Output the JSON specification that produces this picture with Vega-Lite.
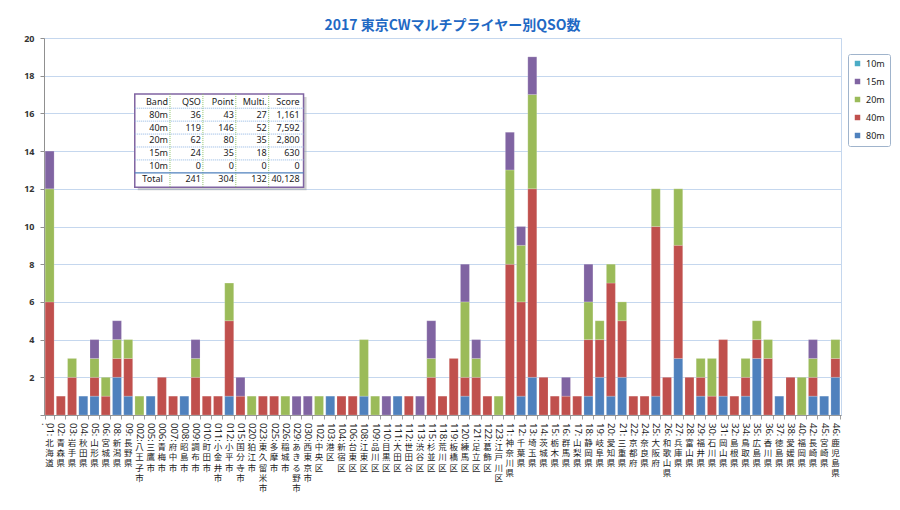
{
  "$schema": "https://vega.github.io/schema/vega-lite/v6.json",
  "width": 797,
  "height": 377,
  "autosize": {"type": "none"},
  "padding": {"left": 44, "top": 38, "right": 59, "bottom": 95},
  "background": "white",
  "config": {"view": {"stroke": "#C5D7EE"}, "font": "Noto Sans"},
  "title": {
    "text": "2017 東京CWマルチプライヤー別QSO数",
    "font": "Noto Sans CJK JP",
    "fontSize": 14,
    "fontWeight": "bold",
    "color": "#1F69C4",
    "anchor": "middle",
    "frame": "group",
    "dx": 10,
    "offset": 1.5
  },
  "layer": [
    {
      "data": {
        "values": [
          {"area": "01:北海道", "80m": 0, "40m": 6, "20m": 6, "15m": 2},
          {"area": "02:青森県", "80m": 0, "40m": 1, "20m": 0, "15m": 0},
          {"area": "03:岩手県", "80m": 0, "40m": 2, "20m": 1, "15m": 0},
          {"area": "04:秋田県", "80m": 1, "40m": 0, "20m": 0, "15m": 0},
          {"area": "05:山形県", "80m": 1, "40m": 1, "20m": 1, "15m": 1},
          {"area": "06:宮城県", "80m": 0, "40m": 1, "20m": 1, "15m": 0},
          {"area": "08:新潟県", "80m": 2, "40m": 1, "20m": 1, "15m": 1},
          {"area": "09:長野県", "80m": 1, "40m": 2, "20m": 1, "15m": 0},
          {"area": "002:八王子市", "80m": 0, "40m": 0, "20m": 1, "15m": 0},
          {"area": "005:三鷹市", "80m": 1, "40m": 0, "20m": 0, "15m": 0},
          {"area": "006:青梅市", "80m": 0, "40m": 2, "20m": 0, "15m": 0},
          {"area": "007:府中市", "80m": 0, "40m": 1, "20m": 0, "15m": 0},
          {"area": "008:昭島市", "80m": 1, "40m": 0, "20m": 0, "15m": 0},
          {"area": "009:調布市", "80m": 0, "40m": 2, "20m": 1, "15m": 1},
          {"area": "010:町田市", "80m": 0, "40m": 1, "20m": 0, "15m": 0},
          {"area": "011:小金井市", "80m": 0, "40m": 1, "20m": 0, "15m": 0},
          {"area": "012:小平市", "80m": 1, "40m": 4, "20m": 2, "15m": 0},
          {"area": "015:国分寺市", "80m": 0, "40m": 1, "20m": 0, "15m": 1},
          {"area": "020:狛江市", "80m": 0, "40m": 0, "20m": 1, "15m": 0},
          {"area": "023:東久留米市", "80m": 0, "40m": 1, "20m": 0, "15m": 0},
          {"area": "025:多摩市", "80m": 0, "40m": 1, "20m": 0, "15m": 0},
          {"area": "026:稲城市", "80m": 0, "40m": 0, "20m": 1, "15m": 0},
          {"area": "029:あきる野市", "80m": 0, "40m": 0, "20m": 0, "15m": 1},
          {"area": "030:西東京市", "80m": 0, "40m": 0, "20m": 0, "15m": 1},
          {"area": "102:中央区", "80m": 0, "40m": 0, "20m": 1, "15m": 0},
          {"area": "103:港区", "80m": 1, "40m": 0, "20m": 0, "15m": 0},
          {"area": "104:新宿区", "80m": 0, "40m": 1, "20m": 0, "15m": 0},
          {"area": "106:台東区", "80m": 0, "40m": 1, "20m": 0, "15m": 0},
          {"area": "108:江東区", "80m": 1, "40m": 0, "20m": 3, "15m": 0},
          {"area": "109:品川区", "80m": 0, "40m": 0, "20m": 1, "15m": 0},
          {"area": "110:目黒区", "80m": 0, "40m": 0, "20m": 0, "15m": 1},
          {"area": "111:大田区", "80m": 1, "40m": 0, "20m": 0, "15m": 0},
          {"area": "112:世田谷", "80m": 0, "40m": 1, "20m": 0, "15m": 0},
          {"area": "113:渋谷区", "80m": 0, "40m": 0, "20m": 0, "15m": 1},
          {"area": "115:杉並区", "80m": 0, "40m": 2, "20m": 1, "15m": 2},
          {"area": "118:荒川区", "80m": 0, "40m": 1, "20m": 0, "15m": 0},
          {"area": "119:板橋区", "80m": 0, "40m": 3, "20m": 0, "15m": 0},
          {"area": "120:練馬区", "80m": 1, "40m": 1, "20m": 4, "15m": 2},
          {"area": "121:足立区", "80m": 0, "40m": 2, "20m": 1, "15m": 1},
          {"area": "122:葛飾区", "80m": 0, "40m": 1, "20m": 0, "15m": 0},
          {"area": "123:江戸川区", "80m": 0, "40m": 0, "20m": 1, "15m": 0},
          {"area": "11:神奈川県", "80m": 0, "40m": 8, "20m": 5, "15m": 2},
          {"area": "12:千葉県", "80m": 1, "40m": 5, "20m": 3, "15m": 1},
          {"area": "13:埼玉県", "80m": 2, "40m": 10, "20m": 5, "15m": 2},
          {"area": "14:茨城県", "80m": 0, "40m": 2, "20m": 0, "15m": 0},
          {"area": "15:栃木県", "80m": 0, "40m": 1, "20m": 0, "15m": 0},
          {"area": "16:群馬県", "80m": 0, "40m": 1, "20m": 0, "15m": 1},
          {"area": "17:山梨県", "80m": 0, "40m": 1, "20m": 0, "15m": 0},
          {"area": "18:静岡県", "80m": 1, "40m": 3, "20m": 2, "15m": 2},
          {"area": "19:岐阜県", "80m": 2, "40m": 2, "20m": 1, "15m": 0},
          {"area": "20:愛知県", "80m": 1, "40m": 6, "20m": 1, "15m": 0},
          {"area": "21:三重県", "80m": 2, "40m": 3, "20m": 1, "15m": 0},
          {"area": "22:京都府", "80m": 0, "40m": 1, "20m": 0, "15m": 0},
          {"area": "24:奈良県", "80m": 0, "40m": 1, "20m": 0, "15m": 0},
          {"area": "25:大阪府", "80m": 1, "40m": 9, "20m": 2, "15m": 0},
          {"area": "26:和歌山県", "80m": 0, "40m": 2, "20m": 0, "15m": 0},
          {"area": "27:兵庫県", "80m": 3, "40m": 6, "20m": 3, "15m": 0},
          {"area": "28:富山県", "80m": 0, "40m": 2, "20m": 0, "15m": 0},
          {"area": "29:福井県", "80m": 1, "40m": 1, "20m": 1, "15m": 0},
          {"area": "30:石川県", "80m": 0, "40m": 1, "20m": 2, "15m": 0},
          {"area": "31:岡山県", "80m": 1, "40m": 3, "20m": 0, "15m": 0},
          {"area": "32:島根県", "80m": 0, "40m": 1, "20m": 0, "15m": 0},
          {"area": "34:鳥取県", "80m": 1, "40m": 1, "20m": 1, "15m": 0},
          {"area": "35:広島県", "80m": 3, "40m": 1, "20m": 1, "15m": 0},
          {"area": "36:香川県", "80m": 0, "40m": 3, "20m": 1, "15m": 0},
          {"area": "37:徳島県", "80m": 1, "40m": 0, "20m": 0, "15m": 0},
          {"area": "38:愛媛県", "80m": 0, "40m": 2, "20m": 0, "15m": 0},
          {"area": "40:福岡県", "80m": 0, "40m": 0, "20m": 2, "15m": 0},
          {"area": "42:長崎県", "80m": 1, "40m": 1, "20m": 1, "15m": 1},
          {"area": "45:宮崎県", "80m": 1, "40m": 0, "20m": 0, "15m": 0},
          {"area": "46:鹿児島県", "80m": 2, "40m": 1, "20m": 1, "15m": 0}
        ]
      },
      "transform": [
        {"fold": ["80m", "40m", "20m", "15m"], "as": ["band", "qso"]},
        {"filter": "datum.qso > 0"}
      ],
      "layer": [
        {
          "mark": {"type": "bar", "stroke": "white", "strokeOpacity": 0.3, "strokeWidth": 0.6},
          "encoding": {
            "x": {
              "field": "area", "type": "nominal", "sort": null,
              "scale": {"paddingInner": 0.2, "paddingOuter": 0.1},
              "axis": {
                "title": null,
                "labelExpr": "split(datum.label, ':')[0] + ':'",
                "labelAngle": 90, "labelAlign": "left", "labelBaseline": "middle",
                "labelFont": "Noto Sans", "labelFontSize": 9.5, "labelColor": "#222222",
                "labelPadding": 3.5,
                "tickBand": "extent", "tickSize": 4, "tickColor": "#A0A0A0",
                "domainColor": "#909090", "grid": false
              }
            },
            "y": {
              "field": "qso", "type": "quantitative", "stack": "zero",
              "scale": {"domain": [0, 20], "nice": false},
              "axis": {
                "title": null,
                "values": [0, 2, 4, 6, 8, 10, 12, 14, 16, 18, 20],
                "labelExpr": "datum.value == 0 ? '' : datum.label",
                "labelFont": "Noto Sans", "labelFontSize": 9, "labelFontWeight": "bold",
                "labelColor": "#333333", "labelPadding": 6,
                "tickSize": 4, "tickColor": "#909090", "domainColor": "#909090",
                "gridColor": "#C5D7EE"
              }
            },
            "color": {
              "field": "band", "type": "nominal",
              "scale": {
                "domain": ["10m", "15m", "20m", "40m", "80m"],
                "range": ["#4BACC6", "#8064A2", "#9BBB59", "#C0504D", "#4F81BD"]
              },
              "legend": {
                "title": null, "orient": "none", "legendX": 804, "legendY": 16,
                "symbolType": "square", "symbolSize": 30, "symbolStrokeWidth": 0,
                "labelFont": "Noto Sans", "labelFontSize": 9, "labelColor": "#222222",
                "padding": 5, "rowPadding": 8,
                "strokeColor": "#A0B4CC", "fillColor": "white", "cornerRadius": 2
              }
            },
            "order": {"field": "band", "sort": "descending"}
          }
        },
        {
          "mark": {"type": "rule", "opacity": 0},
          "encoding": {
            "x": {
              "field": "area", "type": "nominal", "sort": null,
              "axis": {
                "title": null, "orient": "bottom", "domain": false, "ticks": false, "grid": false,
                "labelExpr": "length(split(datum.label, ':')[0]) <= 2 ? split(split(datum.label, ':')[1], '') : ''",
                "labelAngle": 0, "labelAlign": "center", "labelBaseline": "top",
                "labelFont": "Noto Sans CJK JP", "labelFontSize": 8.5, "labelLineHeight": 10.3,
                "labelColor": "#222222", "labelPadding": 23
              }
            }
          }
        },
        {
          "mark": {"type": "rule", "opacity": 0},
          "encoding": {
            "x": {
              "field": "area", "type": "nominal", "sort": null,
              "axis": {
                "title": null, "orient": "bottom", "domain": false, "ticks": false, "grid": false,
                "labelExpr": "length(split(datum.label, ':')[0]) > 2 ? split(split(datum.label, ':')[1], '') : ''",
                "labelAngle": 0, "labelAlign": "center", "labelBaseline": "top",
                "labelFont": "Noto Sans CJK JP", "labelFontSize": 8.5, "labelLineHeight": 10.3,
                "labelColor": "#222222", "labelPadding": 27.5
              }
            }
          }
        }
      ],
      "resolve": {"axis": {"x": "independent"}}
    },
    {
      "data": {
        "values": [
          {"r": 0, "c": 0, "t": "Band"}, {"r": 0, "c": 1, "t": "QSO"}, {"r": 0, "c": 2, "t": "Point"}, {"r": 0, "c": 3, "t": "Multi."}, {"r": 0, "c": 4, "t": "Score"},
          {"r": 1, "c": 0, "t": "80m"}, {"r": 1, "c": 1, "t": "36"}, {"r": 1, "c": 2, "t": "43"}, {"r": 1, "c": 3, "t": "27"}, {"r": 1, "c": 4, "t": "1,161"},
          {"r": 2, "c": 0, "t": "40m"}, {"r": 2, "c": 1, "t": "119"}, {"r": 2, "c": 2, "t": "146"}, {"r": 2, "c": 3, "t": "52"}, {"r": 2, "c": 4, "t": "7,592"},
          {"r": 3, "c": 0, "t": "20m"}, {"r": 3, "c": 1, "t": "62"}, {"r": 3, "c": 2, "t": "80"}, {"r": 3, "c": 3, "t": "35"}, {"r": 3, "c": 4, "t": "2,800"},
          {"r": 4, "c": 0, "t": "15m"}, {"r": 4, "c": 1, "t": "24"}, {"r": 4, "c": 2, "t": "35"}, {"r": 4, "c": 3, "t": "18"}, {"r": 4, "c": 4, "t": "630"},
          {"r": 5, "c": 0, "t": "10m"}, {"r": 5, "c": 1, "t": "0"}, {"r": 5, "c": 2, "t": "0"}, {"r": 5, "c": 3, "t": "0"}, {"r": 5, "c": 4, "t": "0"},
          {"r": 6, "c": 0, "t": "Total"}, {"r": 6, "c": 1, "t": "241"}, {"r": 6, "c": 2, "t": "304"}, {"r": 6, "c": 3, "t": "132"}, {"r": 6, "c": 4, "t": "40,128"}
        ]
      },
      "layer": [
        {
          "transform": [{"filter": "datum.r == 0 && datum.c == 0"}],
          "mark": {"type": "rect", "fill": "#9A9A9A", "opacity": 0.45, "xOffset": 3, "x2Offset": 3, "yOffset": 3, "y2Offset": 3},
          "encoding": {
            "x": {"datum": -1.01, "type": "quantitative", "scale": {"domain": [-3.769, 20.456], "nice": false, "zero": false}, "axis": null},
            "x2": {"datum": 4.12},
            "y": {"datum": -0.6, "type": "quantitative", "scale": {"domain": [-4.927, 24.23], "nice": false, "zero": false, "reverse": true}, "axis": null},
            "y2": {"datum": 6.61}
          }
        },
        {
          "transform": [{"filter": "datum.r == 0 && datum.c == 0"}],
          "mark": {"type": "rect", "fill": "white", "stroke": "#8064A2", "strokeWidth": 1.5},
          "encoding": {
            "x": {"datum": -1.01, "type": "quantitative", "scale": {"domain": [-3.769, 20.456], "nice": false, "zero": false}, "axis": null},
            "x2": {"datum": 4.12},
            "y": {"datum": -0.6, "type": "quantitative", "scale": {"domain": [-4.927, 24.23], "nice": false, "zero": false, "reverse": true}, "axis": null},
            "y2": {"datum": 6.61}
          }
        },
        {
          "transform": [{"filter": "datum.r == 0 && datum.c < 4"}],
          "mark": {"type": "rule", "color": "#8FC46A", "strokeDash": [1, 1], "strokeWidth": 1, "xOffset": 2},
          "encoding": {
            "x": {"field": "c", "type": "quantitative", "scale": {"domain": [-3.769, 20.456], "nice": false, "zero": false}, "axis": null},
            "y": {"datum": -0.6, "type": "quantitative", "scale": {"domain": [-4.927, 24.23], "nice": false, "zero": false, "reverse": true}, "axis": null},
            "y2": {"datum": 6.61}
          }
        },
        {
          "transform": [{"filter": "datum.c == 0 && datum.r < 5"}],
          "mark": {"type": "rule", "color": "#8DB3E2", "strokeDash": [1, 1], "strokeWidth": 1, "yOffset": 6.5},
          "encoding": {
            "x": {"datum": -1.01, "type": "quantitative", "scale": {"domain": [-3.769, 20.456], "nice": false, "zero": false}, "axis": null},
            "x2": {"datum": 4.12},
            "y": {"field": "r", "type": "quantitative", "scale": {"domain": [-4.927, 24.23], "nice": false, "zero": false, "reverse": true}, "axis": null}
          }
        },
        {
          "transform": [{"filter": "datum.c == 0 && datum.r == 5"}],
          "mark": {"type": "rule", "color": "#4F81BD", "strokeWidth": 1.2, "yOffset": 6.5},
          "encoding": {
            "x": {"datum": -1.01, "type": "quantitative", "scale": {"domain": [-3.769, 20.456], "nice": false, "zero": false}, "axis": null},
            "x2": {"datum": 4.12},
            "y": {"field": "r", "type": "quantitative", "scale": {"domain": [-4.927, 24.23], "nice": false, "zero": false, "reverse": true}, "axis": null}
          }
        },
        {
          "transform": [{"filter": "!(datum.r == 6 && datum.c == 0)"}],
          "mark": {"type": "text", "align": "right", "baseline": "middle", "font": "Noto Sans", "fontSize": 9, "color": "#222222"},
          "encoding": {
            "x": {"field": "c", "type": "quantitative", "scale": {"domain": [-3.769, 20.456], "nice": false, "zero": false}, "axis": null},
            "y": {"field": "r", "type": "quantitative", "scale": {"domain": [-4.927, 24.23], "nice": false, "zero": false, "reverse": true}, "axis": null},
            "text": {"field": "t"}
          }
        },
        {
          "transform": [{"filter": "datum.r == 6 && datum.c == 0"}],
          "mark": {"type": "text", "align": "left", "baseline": "middle", "font": "Noto Sans", "fontSize": 9, "color": "#222222"},
          "encoding": {
            "x": {"datum": -0.78, "type": "quantitative", "scale": {"domain": [-3.769, 20.456], "nice": false, "zero": false}, "axis": null},
            "y": {"field": "r", "type": "quantitative", "scale": {"domain": [-4.927, 24.23], "nice": false, "zero": false, "reverse": true}, "axis": null},
            "text": {"field": "t"}
          }
        }
      ]
    }
  ],
  "resolve": {"scale": {"x": "independent", "y": "independent"}}
}
